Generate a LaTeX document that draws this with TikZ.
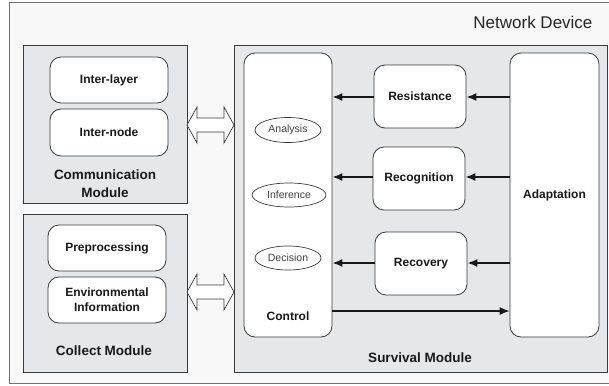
\documentclass[tikz,border=0pt]{standalone}
\usepackage{fontspec}
\setmainfont{Liberation Sans}
\usetikzlibrary{arrows.meta,shapes.geometric}
\definecolor{outerfill}{HTML}{F8F8F8}
\definecolor{modfill}{HTML}{E6E7E8}
\definecolor{edge}{HTML}{3A3A3A}
\definecolor{frameedge}{HTML}{707070}
\begin{document}
\begin{tikzpicture}[x=1pt,y=-1pt,
  module/.style={draw=edge, line width=0.8pt, fill=modfill, minimum width=#1, inner sep=0pt},
  rbox/.style={draw=edge, line width=0.8pt, fill=white, rounded corners=11pt, inner sep=0pt,
    font=\fontsize{12}{14}\selectfont\bfseries, align=center, text=black!90},
  oval/.style={draw=edge, line width=0.7pt, fill=white, ellipse, inner sep=0pt,
    font=\fontsize{10.5}{12}\selectfont, text=black!75},
  modlabel/.style={font=\fontsize{13.5}{18}\selectfont\bfseries, align=center, text=black!90},
  flow/.style={draw=black!90, line width=1.6pt, -{Latex[length=10pt,width=8pt]}},
  darrow/.style={draw=edge, line width=0.7pt, fill=white}
]
\useasboundingbox (0,0) rectangle (609,385);
% outer frame
\node[draw=frameedge, line width=0.8pt, fill=outerfill, minimum width=603pt, minimum height=381pt, inner sep=0pt] (device) at (311,192.5) {};
\node[anchor=east, font=\fontsize{17}{20}\selectfont, text=black!85] (devlabel) at (596,22) {Network Device};

% communication module
\node[module=164pt, minimum height=158pt] (comm) at (105,124) {};
\node[rbox, minimum width=118pt, minimum height=46pt] (interlayer) at (109,80) {Inter-layer};
\node[rbox, minimum width=118pt, minimum height=47pt] (internode) at (109,132.5) {Inter-node};
\node[modlabel] (commlabel) at (105,184) {Communication\\Module};

% collect module
\node[module=164pt, minimum height=158pt] (collect) at (105,293) {};
\node[rbox, minimum width=118pt, minimum height=46pt] (prep) at (107,248) {Preprocessing};
\node[rbox, minimum width=118pt, minimum height=46pt, font=\fontsize{12}{15}\selectfont\bfseries] (env) at (107,300) {Environmental\\Information};
\node[modlabel] (collectlabel) at (104,351) {Collect Module};

% survival module
\node[module=373pt, minimum height=327pt] (surv) at (420.5,208.5) {};
\node[modlabel] (survlabel) at (420,358) {Survival Module};
\node[rbox, minimum width=88pt, minimum height=284pt] (control) at (288,195) {};
\node[font=\fontsize{12}{14}\selectfont\bfseries, text=black!90] (controllabel) at (288,316) {Control};
\node[rbox, minimum width=89pt, minimum height=284pt] (adapt) at (554.5,195) {Adaptation};
\node[rbox, minimum width=92pt, minimum height=63pt] (resist) at (420,96.5) {Resistance};
\node[rbox, minimum width=92pt, minimum height=63pt] (recog) at (419,178.5) {Recognition};
\node[rbox, minimum width=92pt, minimum height=63pt] (recov) at (421,263.5) {Recovery};

\node[oval, minimum width=66pt, minimum height=25pt] (analysis) at (288,130) {Analysis};
\node[oval, minimum width=74pt, minimum height=24pt] (inference) at (289,195) {Inference};
\node[oval, minimum width=66pt, minimum height=24pt] (decision) at (288,258) {Decision};

% flows
\draw[flow] (adapt.west |- 0,97) -- (resist.east |- 0,97);
\draw[flow] (resist.west |- 0,97) -- (control.east |- 0,97);
\draw[flow] (adapt.west |- 0,177) -- (recog.east |- 0,177);
\draw[flow] (recog.west |- 0,177) -- (control.east |- 0,177);
\draw[flow] (adapt.west |- 0,263) -- (recov.east |- 0,263);
\draw[flow] (recov.west |- 0,263) -- (control.east |- 0,263);
\draw[flow, line width=1.2pt] (control.east |- 0,311) -- (adapt.west |- 0,311);

% double arrows
\coordinate (da1) at (210.5,125);
\coordinate (da2) at (210.5,292);
\foreach \c in {da1,da2}{
  \draw[darrow] ([shift={(-23.5,0)}]\c) -- ([shift={(-13.5,-18)}]\c) -- ([shift={(-13.5,-7)}]\c)
    -- ([shift={(13.5,-7)}]\c) -- ([shift={(13.5,-18)}]\c) -- ([shift={(23.5,0)}]\c)
    -- ([shift={(13.5,18)}]\c) -- ([shift={(13.5,7)}]\c) -- ([shift={(-13.5,7)}]\c)
    -- ([shift={(-13.5,18)}]\c) -- cycle;
}
\end{tikzpicture}
\end{document}
